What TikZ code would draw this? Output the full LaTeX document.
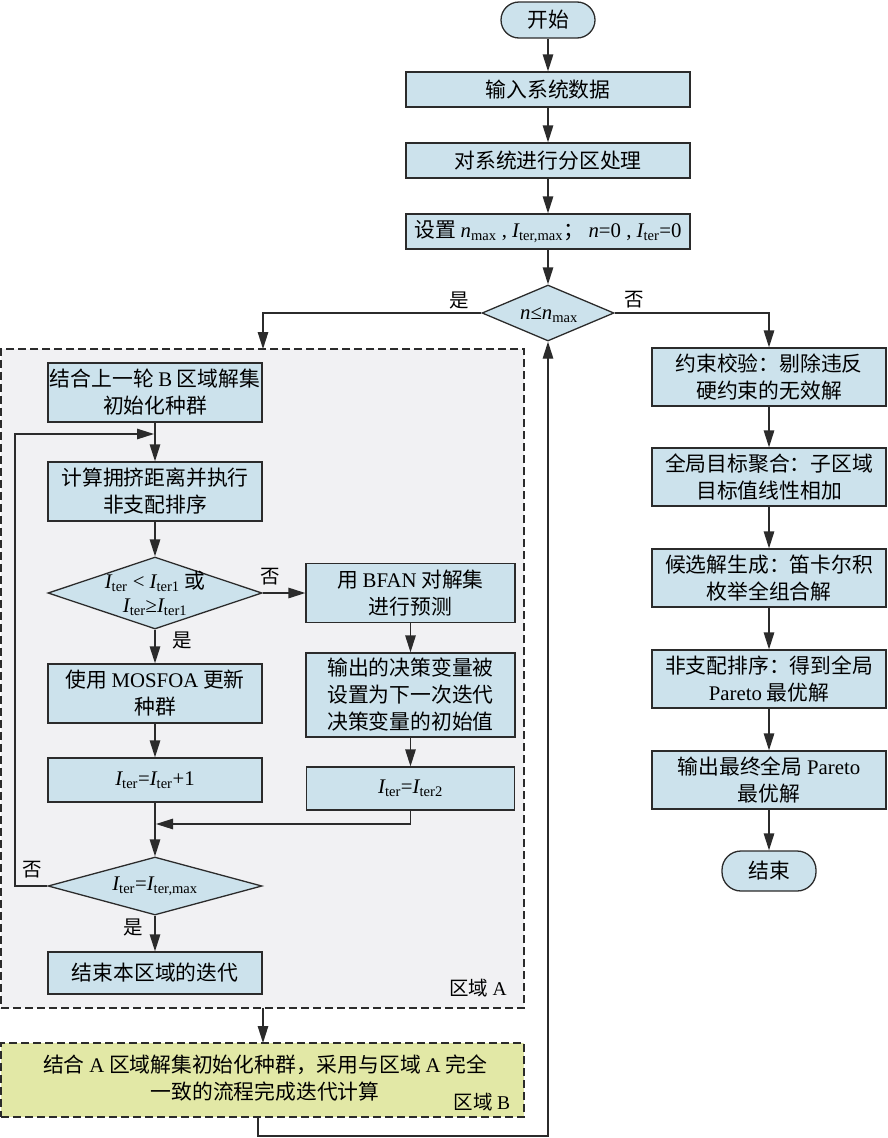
\documentclass[tikz,border=0pt]{standalone}
\usepackage{fontspec}
\setmainfont{Noto Sans CJK SC}
\newfontfamily\latf{Liberation Serif}
\usetikzlibrary{arrows.meta,shapes.geometric}
\definecolor{boxblue}{HTML}{CCE2EC}
\definecolor{regagray}{HTML}{F1F1F3}
\definecolor{regbgreen}{HTML}{E2E8A6}
\definecolor{edgec}{HTML}{2B2B2B}
\newcommand\myLat[1]{{\latf #1}}
\newcommand\myI[1]{{\latf\itshape I}\textsubscript{\latf #1}}
\newcommand\myN{{\latf\itshape n}}
\begin{document}
\begin{tikzpicture}[x=1pt,y=-1pt,
  every node/.style={font=\fontsize{20.8}{27}\selectfont},
  box/.style={draw=edgec, fill=boxblue, line width=1.3pt, align=center, inner sep=0pt},
  term/.style={box, rounded corners=18pt},
  dec/.style={draw=edgec, fill=boxblue, line width=1.3pt, diamond, inner sep=0pt},
  dectext/.style={align=center, inner sep=0pt, font=\fontsize{20.8}{24}\selectfont},
  region/.style={draw=edgec, dash pattern=on 8pt off 4pt, line width=1.2pt, inner sep=0pt},
  arr/.style={draw=edgec, line width=1.3pt, -{Triangle[length=17pt,width=10.5pt]}},
  lbl/.style={inner sep=0pt, font=\fontsize{19.5}{22}\selectfont}
]
\useasboundingbox (0,0) rectangle (888,1138);

% regions
\node[region, fill=regagray, minimum width=523, minimum height=659] (ra) at (262.5,678.5) {};
\node[region, fill=regbgreen, minimum width=523, minimum height=74] (rb) at (262.5,1080) {};
\node[inner sep=0pt, align=center] (rbt) at (265,1078) {结合 \myLat{A} 区域解集初始化种群，采用与区域 \myLat{A} 完全\\一致的流程完成迭代计算};
\node[lbl] (rbl) at (482,1102) {区域 \myLat{B}};
\node[lbl] (ral) at (478,988) {区域 \myLat{A}};

% main top column
\node[term, minimum width=94, minimum height=36] (st) at (548,20) {开始};
\node[box, minimum width=284, minimum height=35] (in1) at (548,89.5) {输入系统数据};
\node[box, minimum width=284, minimum height=35] (part) at (548,160.5) {对系统进行分区处理};
\node[box, minimum width=284, minimum height=35] (set) at (548,231.5) {设置 \myN\textsubscript{\latf max}\myLat{ , }\myI{ter,max}； \myN\myLat{=0 , }\myI{ter}\myLat{=0}};
\node[dec, minimum width=132, minimum height=56] (d0) at (548,313) {};
\node[dectext] (d0t) at (549,315) {\myN\myLat{≤}\myN\textsubscript{\latf max}};
\node[lbl] (l0y) at (459,300) {是};
\node[lbl] (l0n) at (634,300) {否};

% region A contents
\node[box, minimum width=214, minimum height=59] (b1) at (155,392.5) {结合上一轮 \myLat{B} 区域解集\\初始化种群};
\node[box, minimum width=214, minimum height=59] (b2) at (155,491.5) {计算拥挤距离并执行\\非支配排序};
\node[dec, minimum width=214, minimum height=72] (d1) at (155,593) {};
\node[dectext] (d1t) at (155,593) {\myI{ter}\myLat{ < }\myI{ter1} 或\\\myI{ter}\myLat{≥}\myI{ter1}};
\node[lbl] (l1n) at (270,577) {否};
\node[lbl] (l1y) at (182,640) {是};
\node[box, minimum width=209, minimum height=59] (bfan) at (410.5,593) {用 \myLat{BFAN} 对解集\\进行预测};
\node[box, minimum width=209, minimum height=84] (out) at (410.5,695) {输出的决策变量被\\设置为下一次迭代\\决策变量的初始值};
\node[box, minimum width=208, minimum height=43] (it2) at (410.5,788.5) {\myI{ter}\myLat{=}\myI{ter2}};
\node[box, minimum width=214, minimum height=59] (mos) at (155,693.5) {使用 \myLat{MOSFOA} 更新\\种群};
\node[box, minimum width=214, minimum height=44] (it1) at (155,780) {\myI{ter}\myLat{=}\myI{ter}\myLat{+1}};
\node[dec, minimum width=214, minimum height=58] (d2) at (155,886) {};
\node[dectext] (d2t) at (155,886) {\myI{ter}\myLat{=}\myI{ter,max}};
\node[lbl] (l2n) at (32,870) {否};
\node[lbl] (l2y) at (133,927) {是};
\node[box, minimum width=214, minimum height=42] (enda) at (155,973) {结束本区域的迭代};

% right column
\node[box, minimum width=234, minimum height=58] (r1) at (769,377) {约束校验：剔除违反\\硬约束的无效解};
\node[box, minimum width=234, minimum height=58] (r2) at (769,477) {全局目标聚合：子区域\\目标值线性相加};
\node[box, minimum width=234, minimum height=58] (r3) at (769,578) {候选解生成：笛卡尔积\\枚举全组合解};
\node[box, minimum width=234, minimum height=58] (r4) at (769,679) {非支配排序：得到全局\\\myLat{Pareto} 最优解};
\node[box, minimum width=234, minimum height=58] (r5) at (769,780) {输出最终全局 \myLat{Pareto}\\最优解};
\node[term, minimum width=94, minimum height=40, rounded corners=19pt] (fin) at (769,871) {结束};

% coordinates
\coordinate (ain) at (263,349);
\coordinate (lx) at (15,434);
\coordinate (loopin) at (154,434);
\coordinate (merge) at (156,824);
\coordinate (aout) at (263,1008);
\coordinate (bin) at (263,1043);
\coordinate (bout) at (258,1117);
\coordinate (bl) at (258,1136);

% connectors
\draw[arr] (st) -- (in1);
\draw[arr] (in1) -- (part);
\draw[arr] (part) -- (set);
\draw[arr] (set) -- (d0);
\draw[arr] (d0.west) -| (ain);
\draw[arr] (d0.east) -| (r1.north);
\draw[arr] (r1) -- (r2);
\draw[arr] (r2) -- (r3);
\draw[arr] (r3) -- (r4);
\draw[arr] (r4) -- (r5);
\draw[arr] (r5) -- (fin);
\draw[arr] (b1) -- (b2);
\draw[arr] (b2) -- (d1);
\draw[arr] (d1.east) -- (bfan.west);
\draw[arr] (d1) -- (mos);
\draw[arr] (bfan) -- (out);
\draw[arr] (out) -- (it2);
\draw[arr] (mos) -- (it1);
\draw[arr] (it1) -- (d2);
\draw[arr] (it2.south) |- (merge);
\draw[arr] (d2.west) -| (lx) -- (loopin);
\draw[arr] (d2) -- (enda);
\draw[arr] (aout) -- (bin);
\draw[arr] (bout) -- (bl) -| (d0.south);
\end{tikzpicture}
\end{document}
